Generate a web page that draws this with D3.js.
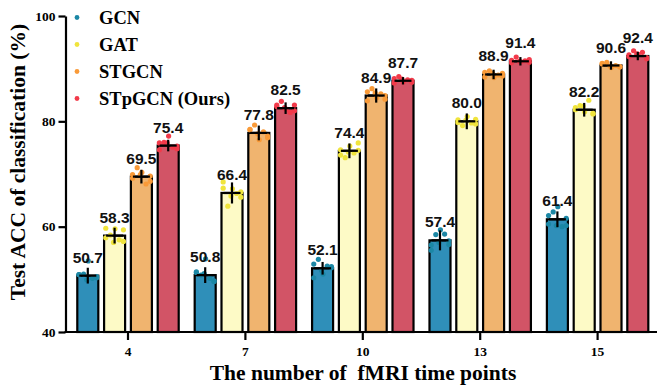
<!DOCTYPE html>
<html>
<head>
<meta charset="utf-8">
<script src="https://cdn.jsdelivr.net/npm/d3@7"></script>
<style>
  html, body { margin: 0; padding: 0; background: #fff; }
  svg { display: block; }
</style>
</head>
<body>
<svg id="chart" width="657" height="387"></svg>
<script>
// ---- data ----
const groups = ["4", "7", "10", "13", "15"];
const series = ["GCN", "GAT", "STGCN", "STpGCN (Ours)"];
const yTicks = [40, 60, 80, 100];

const meanGCN    = [50.7, 50.8, 52.1, 57.4, 61.4];
const meanGAT    = [58.3, 66.4, 74.4, 80.0, 82.2];
const meanSTGCN  = [69.5, 77.8, 84.9, 88.9, 90.6];
const meanSTpGCN = [75.4, 82.5, 87.7, 91.4, 92.4];

const sdGCN    = [1.5, 1.5, 1.2, 1.9, 1.5];
const sdGAT    = [1.5, 2.0, 1.4, 1.5, 1.3];
const sdSTGCN  = [1.3, 1.4, 1.35, 0.9, 0.8];
const sdSTpGCN = [1.1, 1.1, 0.7, 0.8, 0.8];

const ptsGCN = [
  [50.9, 50.3, 51.0, 53.5, 50.2, 50.9, 50.5, 49.9],
  [51.3, 49.6, 50.8, 53.9, 50.2, 51.4, 49.7, 51.1],
  [52.9, 52.2, 53.8, 51.0, 52.5, 50.3, 52.4, 51.7],
  [56.5, 57.3, 58.5, 59.4, 58.6, 55.5, 56.6, 57.0],
  [60.5, 61.6, 62.8, 63.8, 60.0, 62.1, 60.2, 60.2]
];
const ptsGAT = [
  [59.7, 57.2, 58.4, 59.6, 57.5, 57.9, 59.4, 57.0],
  [68.5, 66.6, 63.9, 67.2, 66.3, 67.3, 65.6, 65.8],
  [74.6, 75.9, 73.1, 75.3, 74.0, 73.6, 74.5, 74.2],
  [79.8, 80.4, 79.2, 80.9, 79.7, 80.3, 79.5, 80.2],
  [82.6, 81.5, 83.0, 81.8, 84.0, 82.2, 81.4, 82.9]
];
const ptsSTGCN = [
  [69.9, 68.6, 71.2, 70.3, 68.1, 69.2, 69.6, 69.9],
  [78.5, 77.2, 79.3, 76.5, 78.0, 78.4, 76.9, 77.6],
  [85.6, 84.2, 86.2, 84.5, 85.2, 83.9, 84.9, 85.4],
  [88.4, 89.1, 89.6, 88.3, 88.8, 89.3, 88.6, 89.1],
  [91.0, 90.4, 91.2, 90.2, 90.6, 90.9, 90.3, 90.5]
];
const ptsSTpGCN = [
  [75.9, 74.8, 76.0, 77.2, 75.1, 74.6, 75.3, 75.9],
  [83.1, 82.0, 83.8, 82.3, 81.7, 82.8, 83.1, 82.6],
  [88.1, 87.4, 88.5, 87.5, 87.9, 87.3, 87.8, 88.0],
  [91.6, 91.2, 92.2, 91.3, 91.5, 91.1, 91.7, 91.4],
  [92.6, 92.1, 93.4, 92.7, 93.1, 92.3, 91.9, 92.8]
];

// ---- styles ----
const barColors = ["#2f8fb9", "#fdfac6", "#f0b46f", "#d25466"];
const dotColors = ["#1b87a5", "#f0e43c", "#f99a38", "#f23a4a"];
const means = [meanGCN, meanGAT, meanSTGCN, meanSTpGCN];
const sds = [sdGCN, sdGAT, sdSTGCN, sdSTpGCN];
const pts = [ptsGCN, ptsGAT, ptsSTGCN, ptsSTpGCN];
const jitter = [-0.42, 0.42, -0.2, 0.02, 0.22, -0.42, 0.42, -0.05];

const svg = d3.select("#chart");
const serif = "'Liberation Serif', 'Times New Roman', serif";
const sans = "'Liberation Sans', Arial, sans-serif";

const x0 = d3.scaleBand().domain(groups).range([69.3, 656.3]).padding(0);
const x1 = d3.scaleBand().domain(series).range([2.2, 115.2]).padding(0.216);
const y = d3.scaleLinear().domain([40, 100]).range([332, 16]);
const axisX = 65.5;

// bars
const gBars = svg.append("g");
series.forEach((s, si) => {
  groups.forEach((g, gi) => {
    const bx = x0(g) + x1(s);
    const bw = x1.bandwidth();
    gBars.append("rect")
      .attr("x", bx).attr("y", y(means[si][gi]))
      .attr("width", bw).attr("height", y(40) - y(means[si][gi]))
      .attr("fill", barColors[si]).attr("stroke", "#000").attr("stroke-width", 2.2);
  });
});

// dots
const gDots = svg.append("g");
series.forEach((s, si) => {
  groups.forEach((g, gi) => {
    const cx = x0(g) + x1(s) + x1.bandwidth() / 2;
    pts[si][gi].forEach((v, k) => {
      gDots.append("circle")
        .attr("cx", cx + jitter[k % jitter.length] * x1.bandwidth())
        .attr("cy", y(v)).attr("r", 2.6)
        .attr("fill", dotColors[si]);
    });
  });
});

// error bars + labels
const gErr = svg.append("g");
series.forEach((s, si) => {
  groups.forEach((g, gi) => {
    const cx = x0(g) + x1(s) + x1.bandwidth() / 2;
    const m = means[si][gi], sd = sds[si][gi];
    gErr.append("line")
      .attr("x1", cx).attr("x2", cx)
      .attr("y1", y(m - sd)).attr("y2", y(m + sd))
      .attr("stroke", "#000").attr("stroke-width", 2.2);
    gErr.append("line")
      .attr("x1", cx - 8.5).attr("x2", cx + 8.5)
      .attr("y1", y(m)).attr("y2", y(m))
      .attr("stroke", "#000").attr("stroke-width", 2.2);
    gErr.append("text")
      .attr("x", cx).attr("y", y(m) - 13)
      .attr("text-anchor", "middle")
      .attr("font-family", sans).attr("font-weight", "bold").attr("font-size", 15.5)
      .attr("fill", "#111")
      .text(m.toFixed(1));
  });
});

// y axis
const yAxis = svg.append("g").attr("transform", `translate(${axisX},0)`)
  .call(d3.axisLeft(y).tickValues(yTicks).tickSize(7).tickSizeOuter(0).tickPadding(3));
yAxis.selectAll("path, line").attr("stroke", "#000").attr("stroke-width", 2.2);
yAxis.selectAll("text").attr("font-family", serif).attr("font-weight", "bold")
  .attr("font-size", 13.5).attr("fill", "#000");

// x axis
const xAxis = svg.append("g").attr("transform", `translate(0,${y(40)})`)
  .call(d3.axisBottom(x0).tickSize(8).tickSizeOuter(0).tickPadding(6));
xAxis.select(".domain").attr("d", `M${axisX - 1},0H657`);
xAxis.selectAll("path, line").attr("stroke", "#000").attr("stroke-width", 2.2);
xAxis.selectAll("text").attr("font-family", serif).attr("font-weight", "bold")
  .attr("font-size", 13.5).attr("fill", "#000");

// axis titles
svg.append("text")
  .attr("x", 363).attr("y", 380).attr("text-anchor", "middle")
  .attr("font-family", serif).attr("font-weight", "bold").attr("font-size", 21.5)
  .attr("xml:space", "preserve").style("white-space", "pre")
  .text("The number of  fMRI time points");
svg.append("text")
  .attr("transform", "translate(25,162) rotate(-90)").attr("text-anchor", "middle")
  .attr("font-family", serif).attr("font-weight", "bold").attr("font-size", 21.5)
  .text("Test ACC of classification (%)");

// legend
const leg = svg.append("g");
series.forEach((s, si) => {
  const ly = 17.5 + si * 27;
  leg.append("circle").attr("cx", 77).attr("cy", ly).attr("r", 2.4).attr("fill", dotColors[si]);
  leg.append("text").attr("x", 99).attr("y", ly + 6.5)
    .attr("font-family", serif).attr("font-weight", "bold").attr("font-size", 18.5)
    .attr("fill", "#000").text(s);
});
</script>
</body>
</html>
